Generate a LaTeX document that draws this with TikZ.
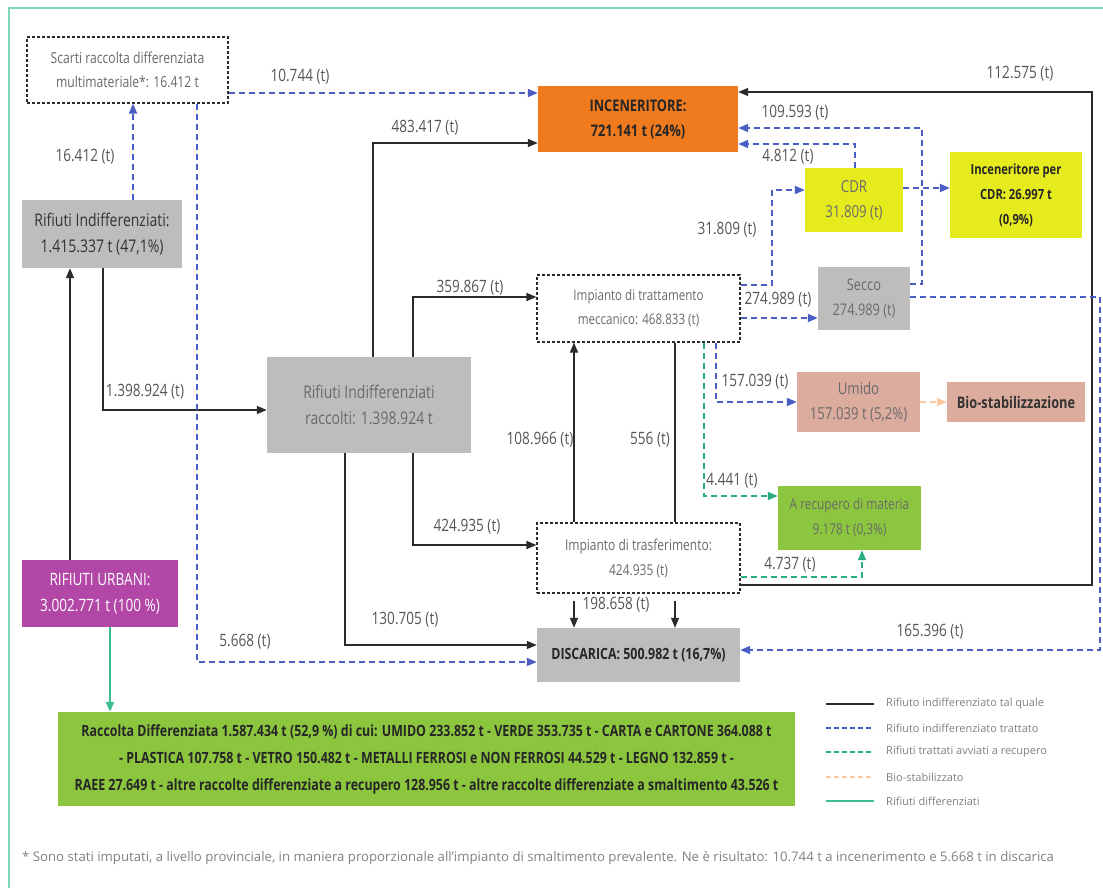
\documentclass[tikz,border=0pt]{standalone}
\usepackage{fontspec}
\setmainfont{Open Sans}[FakeStretch=0.8]
\newfontfamily\plainfont{Open Sans}
\usetikzlibrary{arrows.meta}
\definecolor{framec}{HTML}{7ED8B8}
\definecolor{grayb}{HTML}{BDBDBD}
\definecolor{orangeb}{HTML}{F07A1E}
\definecolor{yellowb}{HTML}{E6EB1E}
\definecolor{purpleb}{HTML}{B347A8}
\definecolor{pinkb}{HTML}{DCAC9E}
\definecolor{greenb}{HTML}{8CC63F}
\definecolor{bluel}{HTML}{4B5EC4}
\definecolor{greend}{HTML}{2BAE7E}
\definecolor{peachl}{HTML}{F9C9A0}
\definecolor{greens}{HTML}{3DBE8C}
\definecolor{blackl}{HTML}{2A2A2A}
\definecolor{lblc}{HTML}{555555}
\definecolor{boxtxt}{HTML}{6A6A6A}
\newcommand{\fs}[2]{\fontsize{#1}{#2}\selectfont}
\begin{document}
\begin{tikzpicture}[x=1pt,y=-1pt,
  tip/.style={-{Triangle[length=10pt,width=8pt]}},
  bk/.style={draw=blackl,line width=1.4pt,tip},
  bkn/.style={draw=blackl,line width=1.4pt},
  bl/.style={draw=bluel,line width=1.8pt,dash pattern=on 6pt off 4pt,tip},
  gd/.style={draw=greend,line width=1.8pt,dash pattern=on 6pt off 4pt,tip},
  pd/.style={draw=peachl,line width=1.8pt,dash pattern=on 6pt off 4pt,tip},
  gs/.style={draw=greens,line width=1.8pt,tip},
  lbl/.style={font=\fs{17}{20},text=lblc,inner sep=0pt},
  bx/.style={inner sep=0pt,align=center,font=\fs{15}{24}},
  dbox/.style={bx,draw=blackl,line width=1.1pt,dash pattern=on 3pt off 2pt,fill=white,text=boxtxt},
  gbox/.style={bx,fill=grayb},
  legt/.style={font=\plainfont\fs{11}{13},text=gray,anchor=west,inner sep=0pt}
]
\useasboundingbox (0,0) rectangle (1103,888);
\clip (0,0) rectangle (1103,888);
\draw[framec,line width=2pt] (9,900) -- (9,8) -- (1110,8);

% nodes
\node[dbox,font=\fs{15.2}{24},minimum width=201pt,minimum height=66pt] (scarti) at (127.5,70) {Scarti raccolta differenziata\\multimateriale*: 16.412 t};
\node[gbox,font=\fs{17.5}{26},minimum width=160pt,minimum height=68pt,text=black!80] (ri) at (102,234) {Rifiuti Indifferenziati:\\1.415.337 t (47,1\%)};
\node[bx,font=\fs{17}{26},fill=purpleb,text=white,minimum width=156pt,minimum height=67pt] (ru) at (100,593.5) {RIFIUTI URBANI:\\3.002.771 t (100 \%)};
\node[gbox,font=\fs{17.5}{26},text=boxtxt,minimum width=204pt,minimum height=96pt] (rr) at (369,405) {Rifiuti Indifferenziati\\raccolti: 1.398.924 t};
\node[bx,fill=orangeb,text=black!85,font=\fs{16}{25}\bfseries,minimum width=200pt,minimum height=66pt] (inc) at (638,119) {INCENERITORE:\\721.141 t (24\%)};
\node[bx,font=\fs{16.5}{25},fill=yellowb,text=boxtxt,minimum width=98pt,minimum height=64pt] (cdr) at (854,200) {CDR\\31.809 (t)};
\node[bx,fill=yellowb,text=black!85,font=\fs{14}{25}\bfseries,minimum width=132pt,minimum height=86pt] (iper) at (1016,195) {Inceneritore per\\CDR: 26.997 t\\(0,9\%)};
\node[dbox,font=\fs{14.5}{24},minimum width=203pt,minimum height=67pt] (mecc) at (638.5,308.5) {Impianto di trattamento\\meccanico: 468.833 (t)};
\node[gbox,font=\fs{16}{25},text=boxtxt,minimum width=92pt,minimum height=63pt] (secco) at (864,298.5) {Secco\\274.989 (t)};
\node[bx,font=\fs{16.5}{25},fill=pinkb,text=boxtxt,minimum width=123pt,minimum height=60pt] (umido) at (858.5,402) {Umido\\157.039 t (5,2\%)};
\node[bx,fill=pinkb,text=black!80,font=\fs{16}{18}\bfseries,minimum width=138pt,minimum height=40pt] (bio) at (1016,402) {Bio-stabilizzazione};
\node[bx,font=\fs{14.8}{25},fill=greenb,text=boxtxt,minimum width=143pt,minimum height=64pt] (arec) at (849.5,518) {A recupero di materia\\9.178 t (0,3\%)};
\node[dbox,font=\fs{15}{25},minimum width=203pt,minimum height=70pt] (trasf) at (638.5,558) {Impianto di trasferimento:\\424.935 (t)};
\node[gbox,text=black!85,font=\fs{15.5}{18}\bfseries,minimum width=203pt,minimum height=54pt] (disc) at (638.5,655) {DISCARICA: 500.982 t (16,7\%)};
\node[bx,fill=greenb,text=black!85,font=\fs{15.5}{27}\bfseries,minimum width=737pt,minimum height=94pt] (rd) at (426.5,759) {Raccolta Differenziata 1.587.434 t (52,9 \%) di cui: UMIDO 233.852 t - VERDE 353.735 t - CARTA e CARTONE 364.088 t\\- PLASTICA 107.758 t - VETRO 150.482 t - METALLI FERROSI e NON FERROSI 44.529 t - LEGNO 132.859 t -\\RAEE 27.649 t - altre raccolte differenziate a recupero 128.956 t - altre raccolte differenziate a smaltimento 43.526 t};

% black connectors
\draw[bk] (ru.north -| 70,0) -- (ri.south -| 70,0);
\draw[bk] (ri.south -| 103,0) |- (rr.west |- 0,410);
\draw[bk] (rr.north -| 373,0) |- (inc.west |- 0,143);
\draw[bk] (rr.north -| 413,0) |- (mecc.west |- 0,297);
\draw[bk] (rr.south -| 413,0) |- (trasf.west |- 0,545);
\draw[bk] (rr.south -| 345,0) |- (disc.west |- 0,645);
\draw[bk] (trasf.north -| 574,0) -- (mecc.south -| 574,0);
\draw[bkn] (mecc.south -| 675,0) -- (trasf.north -| 675,0);
\draw[bk] ([yshift=-7pt]trasf.south -| 675,0) -- (disc.north -| 675,0);
\draw[bk] ([yshift=-7pt]trasf.south -| 574,0) -- (disc.north -| 574,0);
\draw[bk] (trasf.east |- 0,585) -- (1092,585) -- (1092,92) -- (inc.east |- 0,92);

% blue dashed
\draw[bl] (scarti.east |- 0,93) -- (inc.west |- 0,93);
\draw[bl] (ri.north -| 133,0) -- (scarti.south -| 133,0);
\draw[bl] (scarti.south -| 197,0) |- (disc.west |- 0,662);
\draw[bl] (mecc.east |- 0,285) -- (772,285) -- (772,190) -- (cdr.west |- 0,190);
\draw[bl] (mecc.east |- 0,318) -- (secco.west |- 0,318);
\draw[bl] (secco.east |- 0,284) -- (922,284) -- (922,128) -- (inc.east |- 0,128);
\draw[bl] (cdr.north -| 855,0) |- (inc.east |- 0,144);
\draw[bl] (cdr.east |- 0,188) -- (iper.west |- 0,188);
\draw[bl] (secco.east |- 0,297) -- (1100,297) -- (1100,650) -- (disc.east |- 0,650);
\draw[bl] (mecc.south -| 716,0) |- (umido.west |- 0,402);

% green dashed
\draw[gd] (mecc.south -| 704,0) |- (arec.west |- 0,496);
\draw[gd] (trasf.east |- 0,577) -| (arec.south -| 862,0);
% peach dashed
\draw[pd] (umido.east) -- (bio.west);
% green solid
\draw[gs] (ru.south -| 110,0) -- (rd.north -| 110,0);

% labels
\node[lbl] (l1) at (300,77) {10.744 (t)};
\node[lbl] (l2) at (85,157) {16.412 (t)};
\node[lbl] (l3) at (145,392) {1.398.924 (t)};
\node[lbl] (l4) at (425,128) {483.417 (t)};
\node[lbl] (l5) at (470,288) {359.867 (t)};
\node[lbl] (l6) at (467,527) {424.935 (t)};
\node[lbl] (l7) at (405,620) {130.705 (t)};
\node[lbl] (l8) at (245,642) {5.668 (t)};
\node[lbl] (l9) at (540,440) {108.966 (t)};
\node[lbl] (l10) at (650,440) {556 (t)};
\node[lbl] (l11) at (616,605) {198.658 (t)};
\node[lbl] (l12) at (1020,74) {112.575 (t)};
\node[lbl] (l13) at (795,113) {109.593 (t)};
\node[lbl] (l14) at (788,157) {4.812 (t)};
\node[lbl] (l15) at (727,230) {31.809 (t)};
\node[lbl] (l16) at (778,300) {274.989 (t)};
\node[lbl] (l17) at (755,382) {157.039 (t)};
\node[lbl] (l18) at (732,481) {4.441 (t)};
\node[lbl] (l19) at (790,565) {4.737 (t)};
\node[lbl] (l20) at (930,632) {165.396 (t)};

% legend
\draw[blackl,line width=1.4pt] (826,704) -- (874,704);
\node[legt] (g1) at (886,704) {Rifiuto indifferenziato tal quale};
\draw[bluel,line width=1.6pt,dash pattern=on 5pt off 3pt] (826,728) -- (874,728);
\node[legt] (g2) at (886,728) {Rifiuto indifferenziato trattato};
\draw[greend,line width=1.6pt,dash pattern=on 5pt off 3pt] (826,752) -- (874,752);
\node[legt] (g3) at (886,752) {Rifiuti trattati avviati a recupero};
\draw[peachl,line width=1.6pt,dash pattern=on 5pt off 3pt] (826,777) -- (874,777);
\node[legt] (g4) at (886,777) {Bio-stabilizzato};
\draw[greens,line width=2pt] (826,801) -- (874,801);
\node[legt] (g5) at (886,801) {Rifiuti differenziati};

% footnote
\node[font=\plainfont\fs{13.2}{15},text=gray,anchor=west,inner sep=0pt] (fn) at (22,858) {* Sono stati imputati, a livello provinciale, in maniera proporzionale all’impianto di smaltimento prevalente. Ne è risultato: 10.744 t a incenerimento e 5.668 t in discarica};
\end{tikzpicture}
\end{document}
